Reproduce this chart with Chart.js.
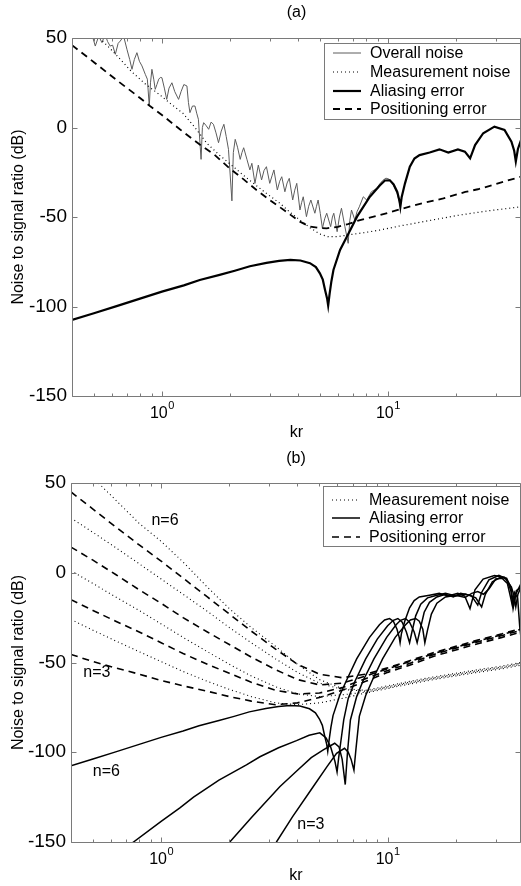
<!DOCTYPE html>
<html>
<head>
<meta charset="utf-8">
<script src="https://cdn.jsdelivr.net/npm/chart.js@4.4.0/dist/chart.umd.min.js"></script>
<style>
  html, body { margin: 0; padding: 0; background: #fff; }
  canvas { display: block; }
</style>
</head>
<body>
<canvas id="chart-a" width="521" height="443"></canvas>
<canvas id="chart-b" width="521" height="443"></canvas>
<script>
// ---- axes ----
const xMajorTicks = [1, 10];
const xMinorTicks = [0.4, 0.5, 0.6, 0.7, 0.8, 0.9, 2, 3, 4, 5, 6, 7, 8, 9, 20, 30];
const yTicks = [-150, -100, -50, 0, 50];

// ---- panel (a) ----
const overallKr = [0.45,0.49,0.507,0.525,0.543,0.56,0.575,0.59,0.605,0.622,
  0.64,0.654,0.677,0.7,0.72,0.737,0.755,0.775,0.795,0.816,
  0.844,0.862,0.879,0.89,0.903,0.92,0.934,0.95,0.968,0.985,
  1.0,1.025,1.05,1.075,1.107,1.14,1.185,1.215,1.25,1.29,
  1.31,1.33,1.365,1.40,1.425,1.45,1.49,1.51,1.53,1.57,
  1.61,1.65,1.69,1.735,1.78,1.83,1.88,1.925,1.97,2.04,
  2.07,2.11,2.16,2.22,2.26,2.30,2.38,2.45,2.5,2.58,
  2.67,2.76,2.83,2.9,3.0,3.07,3.13,3.24,3.32,3.39,
  3.5,3.58,3.66,3.79,3.87,3.95,4.08,4.15,4.22,4.36,
  4.46,4.56,4.75,4.83,4.91,5.02,5.13,5.25,5.36,5.58,
  5.68,5.76,5.96,6.1,6.23,6.45,6.67,6.78,6.9,7.14,
  7.3,7.47,7.78,8.05,8.45,8.93,9.2,9.5,9.8,10.1,
  10.5,11.0,11.35];
const overallDb = [62,52,45.5,51,47.4,52,48,45.5,46,40.9,
  47,48.3,51,43.7,38,32.5,38,41.8,37,34.4,
  29.7,27,12,25,32.5,27,21.3,24,27,28,
  27.8,22,15.7,22,25,20,15.7,20,24,23.2,
  14,8.3,12,12,8,4.6,-17.8,0,2.7,1,
  -1,3,1.8,-3,-8.5,-2,1.8,-5,-12.2,-41,
  -14,-6.6,-11,-17.8,-14,-11.3,-18,-23.7,-20,-31.2,
  -21,-29.3,-24,-21.9,-31.2,-27,-23.7,-34.9,-30,-27.5,
  -35.9,-31,-28.4,-40.5,-35,-31.2,-46.1,-42,-38.7,-49.8,
  -44,-40.5,-47.9,-44,-40.5,-48,-56.3,-51,-47.9,-55.4,
  -50,-47.9,-58.2,-50,-45.1,-55.4,-64.7,-52,-46.1,-51.7,
  -47,-44.3,-38.7,-40.5,-35.9,-34,-31.5,-29.5,-28.3,-28.8,
  -31.5,-37,-44.3];

const measKrA = [0.4,0.45,0.53,0.589,0.65,0.734,0.85,0.98,1.1,1.24,1.4,1.58,1.8,2.07,2.3,2.54,2.9,3.33,3.7,4.08,
  4.52,5.0,5.43,6.0,6.67,7.8,9.2,11.3,12.5,16,20.8,28,38.8];
const measDbA = [66,59,50,44.2,38.5,31.2,24,18.2,13,7.9,0,-8.8,-15.5,-21.9,-26.8,-31.2,-36.8,-42.4,-47.5,-51.7,
  -56,-59.5,-61,-61,-60,-58.8,-57.3,-55,-54,-51.5,-48.9,-46.5,-44.3];

const aliasKrA = [0.4,0.5,0.63,0.8,1.0,1.25,1.47,1.8,2.1,2.45,2.9,3.3,3.7,4.1,4.52,4.8,5.0,5.15,5.27,5.38,
  5.44,5.52,5.62,5.74,6.14,6.58,7.3,8.32,9.2,9.7,10.2,10.6,11.0,11.25,11.35,11.5,11.9,12.5,13.1,13.8,
  15.3,16.9,18.5,20.4,21.9,23.1,24.3,26.4,29.6,32.8,35.2,36.2,36.8,37.6,38.8];
const aliasDbA = [-107.5,-103.8,-99.8,-95.6,-91.7,-88.2,-85.2,-82.3,-80,-77.5,-75.6,-74.5,-74,-74.3,-75.8,-78,-81.5,-85,-90.8,-95.5,
  -99.5,-93,-86,-79.6,-68.4,-61,-49.8,-38.7,-32.4,-29.6,-29.5,-31.8,-36,-41,-44.3,-39,-31.2,-21.9,-17.3,-15.4,
  -14,-12.2,-14,-12.2,-13.5,-17.2,-9.8,-3.2,0.5,-1.4,-7.9,-13,-19,-12,-7];

const posKrA = [0.4,0.5,0.63,0.8,0.885,1.0,1.2,1.47,1.7,2.0,2.3,2.62,3.0,3.5,4.08,4.52,5.0,5.36,6.0,6.65,
  7.52,9.2,11.3,14,17.6,22,25,29.2,33,38.8];
const posDbA = [46,36.5,26.5,16.5,12,7,-1,-9.5,-15,-23,-29,-34.9,-40.5,-46.5,-52.6,-55.4,-56.2,-56.3,-55.5,-54,
  -51.7,-49,-45.7,-42.5,-39.6,-36,-34.5,-32.1,-30,-27.5];

// ---- panel (b), n = 6, 5, 4, 3 ----
const bKr = [0.4,0.5,0.63,0.8,1.0,1.25,1.6,2.0,2.5,3.2,4.0,5.0,6.3,8,10,12.5,16,20,25,32,38.8];
const meas6B = [66,53,40.5,27.5,17.5,6,-8,-20,-30.5,-41,-51,-59.5,-64.5,-65.5,-63,-60.5,-58,-56,-54,-52,-50];
const meas5B = [30.5,22.5,14,5,-3.5,-12,-21.5,-30.5,-39,-48,-55.5,-61.5,-65,-66,-63.5,-61,-58.5,-56.5,-54.5,-52.5,-50.5];
const meas4B = [1.2,-6,-13.5,-21,-28.5,-36,-44,-51,-57.5,-63.5,-67.5,-69,-68,-66.5,-64,-61.5,-59,-57,-55,-53,-51];
const meas3B = [-26,-32,-38,-44,-49.5,-55,-60.5,-65,-69,-72.5,-73.5,-72.5,-70,-67,-64.5,-62,-59.5,-57.5,-55.5,-53.5,-51.5];
const pos6B = [45,35.5,25.5,15.5,6.5,-3,-13.5,-23,-32.5,-42.5,-51,-56.5,-58.5,-56.5,-53,-49,-44.5,-41,-37.5,-34,-31];
const pos5B = [14.3,7,-1,-9.5,-17,-25,-33,-40,-47,-54,-59.5,-62.5,-61.5,-57.5,-53.5,-49.5,-45,-41.5,-38,-34.5,-31.5];
const pos4B = [-15,-21,-27,-33,-39,-45,-51,-56,-61,-65.5,-67.5,-67,-64,-59,-54.5,-50.5,-45.5,-42,-38.5,-35,-32];
const pos3B = [-45.5,-49.5,-53,-56.5,-60,-63,-66,-69,-71.5,-73.5,-72.5,-69.5,-65.5,-60.5,-55.5,-51.5,-46.5,-43,-39.5,-36,-33];

const alias6KrB = aliasKrA;
const alias6DbB = [-107.5,-103.8,-99.8,-95.6,-91.7,-88.2,-85.2,-82.3,-80,-77.5,-75.6,-74.5,-74,-74.3,-75.8,-78,-81.5,-85,-90.8,-95.5,
  -99.5,-93,-86,-79.6,-68.4,-60,-48,-36,-29,-26.3,-25.5,-27,-31.5,-36,-39,-34,-27,-19.5,-15.5,-13.5,
  -12.5,-11.5,-13,-11.5,-13,-20,-9.5,-3.5,-1.5,-2.5,-8,-13,-19,-12,-8];
const alias5KrB = [0.72,0.755,1.0,1.21,1.39,1.8,2.38,2.73,3.3,3.96,4.5,5.02,5.35,5.6,5.85,5.98,6.08,6.2,6.4,6.7,
  7.2,8.0,9.0,10.0,10.6,11.1,11.6,12.1,12.5,12.8,13.3,14,15,16.5,18,20,22,23.5,25,26,28,31,33.5,35,35.8,36.8,38.8];
const alias5DbB = [-152,-150,-138.5,-131,-125,-115.5,-107,-102.5,-97.5,-93.5,-90.5,-89.2,-92,-97,-105,-111,-103,-95,-82,-70,
  -60,-48,-37,-29.5,-26.5,-25.5,-27.5,-33,-39,-33,-24,-17.5,-14,-12.5,-11.5,-13,-11.8,-13,-18,-11,-4,-1.5,-3.5,-10,-20,-12,-6];
const alias4KrB = [1.95,2.01,2.5,3.34,4.0,4.6,5.2,5.84,6.1,6.3,6.5,6.65,6.85,7.3,7.8,8.7,9.9,10.9,11.4,12.0,
  12.5,13.1,13.5,13.9,14.5,15.3,16.5,18,19.5,21,23,24.5,26,27,29,31.5,33.5,35,36,37,38.8];
const alias4DbB = [-152,-150,-136.5,-119.2,-110,-103,-98.7,-95,-97,-104,-118,-100,-82,-69,-60,-48,-36,-29,-26.5,-25.5,
  -27.5,-33,-39,-32,-22,-16.5,-13.5,-12,-13.5,-11.5,-12.5,-14,-19,-12,-5,-2.5,-3,-8,-18,-10,-8];
const alias3KrB = [3.15,3.23,3.8,4.69,5.4,5.95,6.45,6.7,6.9,7.1,7.25,7.5,8.0,8.55,9.5,10.8,12.0,12.6,13.3,13.8,
  14.3,14.6,15.0,15.6,16.5,18,20,22,23.5,25,26.5,28,30,32,33.8,34.8,35.5,36.3,37.5,38.3,38.8];
const alias3DbB = [-152,-150,-136,-119.2,-108,-100.6,-97.8,-100,-104,-110,-98,-80,-68.4,-60,-48,-36,-29,-26.3,-25.5,-27,
  -31.5,-39,-32,-23,-17,-13.5,-12.5,-13.8,-11.5,-10.5,-12,-9,-3.5,-3,-6,-13,-18,-11,-14,-30,-36];

// curve annotations in panel (b)
const noteText = ['n=6', 'n=3', 'n=6', 'n=3'];
const noteKr = [1.04, 0.52, 0.573, 4.58];
const noteDb = [29.2, -55.8, -110.6, -140.4];

Chart.defaults.font.family = '"Liberation Sans", Arial, Helvetica, sans-serif';
Chart.defaults.font.size = 16;
Chart.defaults.color = '#000';

const pts = (xs, ys) => xs.map((x, i) => ({ x: x, y: ys[i] }));

const dotted = [1, 3];
const dashed = [7, 5];

// box, inward ticks, decade labels, title, legend and notes
const decor = {
  id: 'decor',
  afterDraw(chart, args, o) {
    const ctx = chart.ctx;
    const a = chart.chartArea;
    const x = chart.scales.x, y = chart.scales.y;
    const L = Math.round(a.left) + 0.5, R = Math.round(a.right) - 0.5;
    const T = Math.round(a.top) + 0.5, B = Math.round(a.bottom) + 0.5;
    ctx.save();
    ctx.strokeStyle = '#7a7a7a';
    ctx.lineWidth = 1;
    ctx.beginPath();
    ctx.rect(L, T, R - L, B - T);
    const tick = (v, len) => {
      const px = Math.round(x.getPixelForValue(v)) + 0.5;
      ctx.moveTo(px, T); ctx.lineTo(px, T + len);
      ctx.moveTo(px, B); ctx.lineTo(px, B - len);
    };
    xMinorTicks.forEach(v => tick(v, 3));
    xMajorTicks.forEach(v => tick(v, 5));
    yTicks.forEach(v => {
      const py = Math.round(y.getPixelForValue(v)) + 0.5;
      ctx.moveTo(L, py); ctx.lineTo(L + 5, py);
      ctx.moveTo(R, py); ctx.lineTo(R - 5, py);
    });
    ctx.stroke();

    ctx.fillStyle = '#000';
    ctx.textBaseline = 'middle';
    const fam = Chart.defaults.font.family;
    // decade labels 10^n
    xMajorTicks.forEach(v => {
      const px = x.getPixelForValue(v);
      const exp = String(Math.round(Math.log10(v)));
      ctx.font = '16px ' + fam;
      const w1 = ctx.measureText('10').width;
      ctx.font = '11px ' + fam;
      const w2 = ctx.measureText(exp).width;
      const x0 = px - (w1 + w2) / 2;
      ctx.textAlign = 'left';
      ctx.font = '16px ' + fam;
      ctx.fillText('10', x0, B + 17);
      ctx.font = '11px ' + fam;
      ctx.fillText(exp, x0 + w1 + 0.5, B + 9);
    });

    // panel title
    ctx.font = '16px ' + fam;
    ctx.textAlign = 'center';
    ctx.fillText(o.title, (a.left + a.right) / 2, o.titleY);

    // notes
    if (o.notes) {
      ctx.textAlign = 'center';
      noteText.forEach((t, i) => {
        ctx.fillText(t, x.getPixelForValue(noteKr[i]), y.getPixelForValue(noteDb[i]));
      });
    }

    // legend
    const [bx0, by0, bx1, by1] = o.legendBox;
    ctx.fillStyle = '#fff';
    ctx.fillRect(bx0, by0, bx1 - bx0, by1 - by0);
    ctx.strokeStyle = '#7a7a7a';
    ctx.strokeRect(bx0 + 0.5, by0 + 0.5, bx1 - bx0 - 1, by1 - by0 - 1);
    o.legendItems.forEach((di, i) => {
      const ds = chart.data.datasets[di];
      const ly = o.legendRows[i];
      ctx.save();
      ctx.strokeStyle = ds.borderColor;
      ctx.lineWidth = ds.borderWidth;
      ctx.setLineDash(ds.borderDash || []);
      ctx.beginPath();
      ctx.moveTo(bx0 + 9, ly);
      ctx.lineTo(bx0 + 37, ly);
      ctx.stroke();
      ctx.restore();
      ctx.fillStyle = '#000';
      ctx.textAlign = 'left';
      ctx.font = '16px ' + fam;
      ctx.fillText(ds.label, bx0 + 46, ly + 1);
    });
    ctx.restore();
  }
};

function makeOptions(cfg) {
  return {
    responsive: false,
    animation: false,
    devicePixelRatio: 1,
    layout: { padding: { top: cfg.top, right: 0, left: 0, bottom: 0 } },
    elements: {
      point: { radius: 0 },
      line: { tension: 0, fill: false, borderCapStyle: 'butt', borderJoinStyle: 'miter' }
    },
    plugins: {
      legend: { display: false },
      tooltip: { enabled: false },
      decor: cfg
    },
    scales: {
      x: {
        type: 'logarithmic',
        min: 0.4,
        max: 38.8,
        ticks: { display: false },
        grid: { display: false },
        border: { display: false },
        title: { display: true, text: 'kr', padding: { top: 0, bottom: 1 } },
        afterFit(s) { s.height = cfg.bottomH; }
      },
      y: {
        min: -150,
        max: 50,
        ticks: { stepSize: 50, padding: 5, font: { size: 19 } },
        grid: { display: false, drawTicks: false },
        border: { display: false },
        title: { display: true, text: 'Noise to signal ratio (dB)', padding: { top: 9, bottom: 0 } },
        afterFit(s) { s.width = cfg.leftW; }
      }
    }
  };
}

const line = (label, xs, ys, extra) => Object.assign({
  label: label, data: pts(xs, ys), borderColor: '#000', borderWidth: 1, clip: 0
}, extra);

// panel (a)
new Chart(document.getElementById('chart-a'), {
  type: 'line',
  data: {
    datasets: [
      line('Overall noise', overallKr, overallDb, { borderColor: '#5c5c5c', borderWidth: 1, order: 4 }),
      line('Measurement noise', measKrA, measDbA, { borderWidth: 1.2, borderDash: dotted, order: 3 }),
      line('Aliasing error', aliasKrA, aliasDbA, { borderWidth: 2.2, order: 1 }),
      line('Positioning error', posKrA, posDbA, { borderWidth: 1.8, borderDash: dashed, order: 2 })
    ]
  },
  options: makeOptions({
    top: 38, leftW: 72, bottomH: 47, title: '(a)', titleY: 13,
    legendBox: [324, 43, 521, 120], legendRows: [53, 72, 91, 109],
    legendItems: [0, 1, 2, 3], notes: false
  }),
  plugins: [decor]
});

// panel (b)
new Chart(document.getElementById('chart-b'), {
  type: 'line',
  data: {
    datasets: [
      line('Measurement noise', bKr, meas6B, { borderWidth: 1.1, borderDash: dotted }),
      line('n=5 measurement', bKr, meas5B, { borderWidth: 1.1, borderDash: dotted }),
      line('n=4 measurement', bKr, meas4B, { borderWidth: 1.1, borderDash: dotted }),
      line('n=3 measurement', bKr, meas3B, { borderWidth: 1.1, borderDash: dotted }),
      line('Aliasing error', alias6KrB, alias6DbB, { borderWidth: 1.5 }),
      line('n=5 aliasing', alias5KrB, alias5DbB, { borderWidth: 1.5 }),
      line('n=4 aliasing', alias4KrB, alias4DbB, { borderWidth: 1.5 }),
      line('n=3 aliasing', alias3KrB, alias3DbB, { borderWidth: 1.5 }),
      line('Positioning error', bKr, pos6B, { borderWidth: 1.6, borderDash: dashed }),
      line('n=5 positioning', bKr, pos5B, { borderWidth: 1.6, borderDash: dashed }),
      line('n=4 positioning', bKr, pos4B, { borderWidth: 1.6, borderDash: dashed }),
      line('n=3 positioning', bKr, pos3B, { borderWidth: 1.6, borderDash: dashed })
    ]
  },
  options: makeOptions({
    top: 40, leftW: 71, bottomH: 44, title: '(b)', titleY: 16,
    legendBox: [323, 43, 521, 104], legendRows: [57, 75, 94],
    legendItems: [0, 4, 8], notes: true
  }),
  plugins: [decor]
});
</script>
</body>
</html>
